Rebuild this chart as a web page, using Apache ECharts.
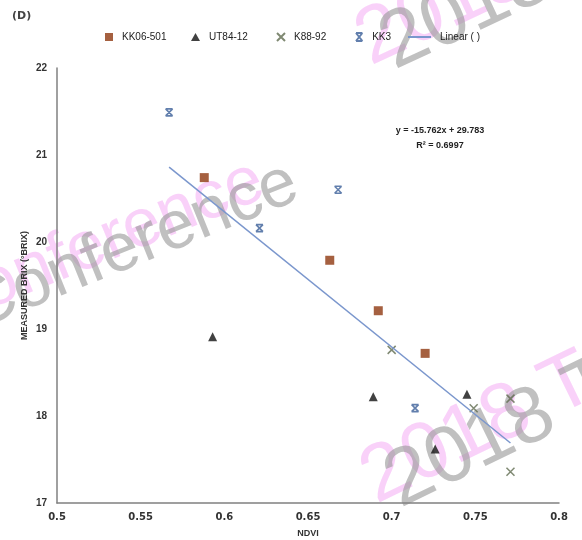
<!DOCTYPE html>
<html>
<head>
<meta charset="utf-8">
<script src="https://cdn.jsdelivr.net/npm/echarts@6/dist/echarts.min.js"></script>
<style>
  html, body { margin: 0; padding: 0; background: #fff; }
  #chart { width: 582px; height: 540px; }
</style>
</head>
<body>
<div id="chart"></div>
<script>
// values: [NDVI, measured brix]
const kk06_501 = [[0.588, 20.74], [0.663, 19.79], [0.692, 19.21], [0.720, 18.72]]
const ut84_12 = [[0.593, 18.91], [0.689, 18.22], [0.745, 18.25], [0.726, 17.62]]
const k88_92 = [[0.700, 18.76], [0.749, 18.09], [0.771, 18.20], [0.771, 17.36]]
const kk3 = [[0.567, 21.49], [0.621, 20.16], [0.668, 20.60], [0.714, 18.09]]
const trend = [[0.567, 20.86], [0.771, 17.69]]
const equation = ['y = -15.762x + 29.783', 'R² = 0.6997']
const seriesNames = ['KK06-501', 'UT84-12', 'K88-92', 'KK3', 'Linear ( )']

const xTicks = { min: 0.5, max: 0.8, interval: 0.05 }
const yTicks = { min: 17, max: 22, interval: 1 }

const FONT = 'Liberation Sans'
const crossPath = 'path://M0,0L10,10M10,0L0,10'
const barCrossPath = 'path://M1,0L9,0M1,10L9,10M1,0L9,10M9,0L1,10'

const chart = echarts.init(document.getElementById('chart'), null, { renderer: 'canvas' })

// one legend per entry, so each sits where it is in the picture
function legendAt (name, left, w, h) {
  return {
    data: [name],
    left: left,
    top: 32,
    itemWidth: w,
    itemHeight: h,
    padding: 0,
    textStyle: { fontFamily: FONT, fontSize: 10, color: '#222', padding: [0, 0, 0, 4] }
  }
}

// pale watermark text lying over the figure
function mark (text, x, y, size, color, angle) {
  return {
    type: 'text',
    x: x,
    y: y,
    rotation: angle * Math.PI / 180,
    z: -10,
    style: { text: text, font: size + 'px "Liberation Sans"', fill: color, align: 'left', verticalAlign: 'bottom' }
  }
}

const pink = 'rgba(246,190,246,0.7)'
const grey = 'rgba(150,150,150,0.6)'

const option = {
  backgroundColor: '#fff',
  animation: false,
  grid: { left: 57, right: 23, top: 68, bottom: 37, outerBoundsMode: 'none' },
  legend: [
    legendAt(seriesNames[0], 105, 8, 8),
    legendAt(seriesNames[1], 191, 9, 8),
    legendAt(seriesNames[2], 276, 8, 8),
    legendAt(seriesNames[3], 355, 8, 8),
    legendAt(seriesNames[4], 407, 23, 2)
  ],
  xAxis: {
    type: 'value',
    min: xTicks.min,
    max: xTicks.max,
    interval: xTicks.interval,
    name: 'NDVI',
    nameLocation: 'middle',
    nameGap: 26,
    nameMoveOverlap: false,
    nameTextStyle: { fontFamily: FONT, fontSize: 9, fontWeight: 'bold', color: '#333' },
    axisLine: { lineStyle: { color: '#808080', width: 1.5 } },
    axisTick: { show: false },
    splitLine: { show: false },
    axisLabel: { fontFamily: 'DejaVu Sans', fontSize: 10, fontWeight: 'bold', color: '#333', margin: 9 }
  },
  yAxis: {
    type: 'value',
    min: yTicks.min,
    max: yTicks.max,
    interval: yTicks.interval,
    name: 'MEASURED BRIX (°BRIX)',
    nameLocation: 'middle',
    nameGap: 28,
    nameMoveOverlap: false,
    nameTextStyle: { fontFamily: FONT, fontSize: 9, fontWeight: 'bold', color: '#333' },
    axisLine: { show: true, lineStyle: { color: '#808080', width: 1.5 } },
    axisTick: { show: false },
    splitLine: { show: false },
    axisLabel: { fontFamily: FONT, fontSize: 10, fontWeight: 'bold', color: '#333', margin: 10 }
  },
  graphic: [
    { type: 'text', left: 12, top: 11, style: { text: '(D)', font: 'bold 11px "DejaVu Sans"', fill: '#444' } },
    { type: 'text', x: 440, y: 131, style: { text: equation[0], font: 'bold 9px "Liberation Sans"', fill: '#222', align: 'center', verticalAlign: 'middle' } },
    { type: 'text', x: 440, y: 146, style: { text: equation[1], font: 'bold 9px "Liberation Sans"', fill: '#222', align: 'center', verticalAlign: 'middle' } },
    mark('2018', 378, 82, 80, pink, 25),
    mark('2018', 402, 86, 80, grey, 25),
    mark('Conference', -52, 342, 68, pink, 22),
    mark('Conference', -18, 344, 68, grey, 22),
    mark('2018 T', 384, 520, 80, pink, 26),
    mark('2018 T', 408, 524, 80, grey, 26)
  ],
  series: [
    {
      name: seriesNames[0],
      type: 'scatter',
      symbol: 'rect',
      symbolSize: 9,
      itemStyle: { color: '#8e3810' },
      data: kk06_501
    },
    {
      name: seriesNames[1],
      type: 'scatter',
      symbol: 'triangle',
      symbolSize: [9, 9],
      itemStyle: { color: '#111' },
      data: ut84_12
    },
    {
      name: seriesNames[2],
      type: 'scatter',
      symbol: crossPath,
      symbolSize: 8,
      itemStyle: { color: 'rgba(0,0,0,0)', borderColor: '#5f6b4f', borderWidth: 1.5 },
      data: k88_92
    },
    {
      name: seriesNames[3],
      type: 'scatter',
      symbol: barCrossPath,
      symbolSize: 7,
      itemStyle: { color: 'rgba(0,0,0,0)', borderColor: '#3b5f99', borderWidth: 1.6 },
      data: kk3
    },
    {
      name: seriesNames[4],
      type: 'line',
      symbol: 'none',
      lineStyle: { color: '#7b97cd', width: 1.5 },
      itemStyle: { color: '#7b97cd' },
      data: trend
    }
  ]
}

chart.setOption(option)
</script>
</body>
</html>
